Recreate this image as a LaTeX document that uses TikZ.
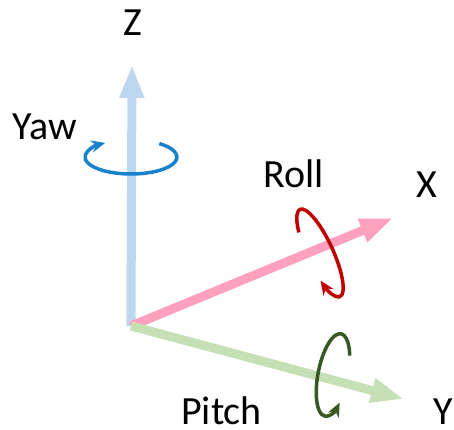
\documentclass[tikz,border=0pt]{standalone}
\usepackage{fontspec}
\setmainfont{Carlito}
\usetikzlibrary{arrows.meta}
\definecolor{zcol}{RGB}{189,215,238}
\definecolor{xcol}{RGB}{255,160,190}
\definecolor{ycol}{RGB}{197,224,180}
\definecolor{yawcol}{RGB}{25,130,205}
\definecolor{rollcol}{RGB}{192,0,0}
\definecolor{pitchcol}{RGB}{56,87,35}

\begin{document}
\begin{tikzpicture}[x=1pt,y=1pt,
  axis/.style={line width=9pt,-{Triangle[length=33pt,width=23pt]}},
  turn/.style={line width=3.5pt,-{Stealth[length=14pt,width=12pt]}},
  lbl/.style={font=\fontsize{40}{42}\selectfont,anchor=base,inner sep=0pt}
]
\useasboundingbox (0,0) rectangle (454,-429);

% Axes
\coordinate (o) at (131,-326);
\coordinate (ztip) at (132,-65);
\coordinate (xtip) at (393,-218);
\coordinate (ytip) at (404,-399);
\draw[axis,zcol] (o) -- (ztip);
\draw[axis,xcol] (o) -- (xtip);
\draw[axis,ycol] (o) -- (ytip);

% Rotations
\draw[turn,yawcol] (131,-157) ++(52:46 and 17)
  arc[start angle=52,end angle=-236,x radius=46,y radius=17];
\begin{scope}[shift={(320,-253)},rotate=114.6]
  \draw[turn,rollcol] (55:48 and 13)
    arc[start angle=55,end angle=-238,x radius=48,y radius=13];
\end{scope}
\begin{scope}[shift={(333,-375)},rotate=79]
  \draw[turn,pitchcol] (-58:42 and 15)
    arc[start angle=-58,end angle=232,x radius=42,y radius=15];
\end{scope}

% Labels
\node[lbl] (zlbl) at (133,-35) {Z};
\node[lbl] (xlbl) at (427,-197) {X};
\node[lbl] (ylbl) at (443,-424) {Y};
\node[lbl] (yaw) at (44.5,-139) {Yaw};
\node[lbl] (roll) at (293.5,-187) {Roll};
\node[lbl] (pitch) at (221.5,-424) {Pitch};
\end{tikzpicture}
\end{document}
